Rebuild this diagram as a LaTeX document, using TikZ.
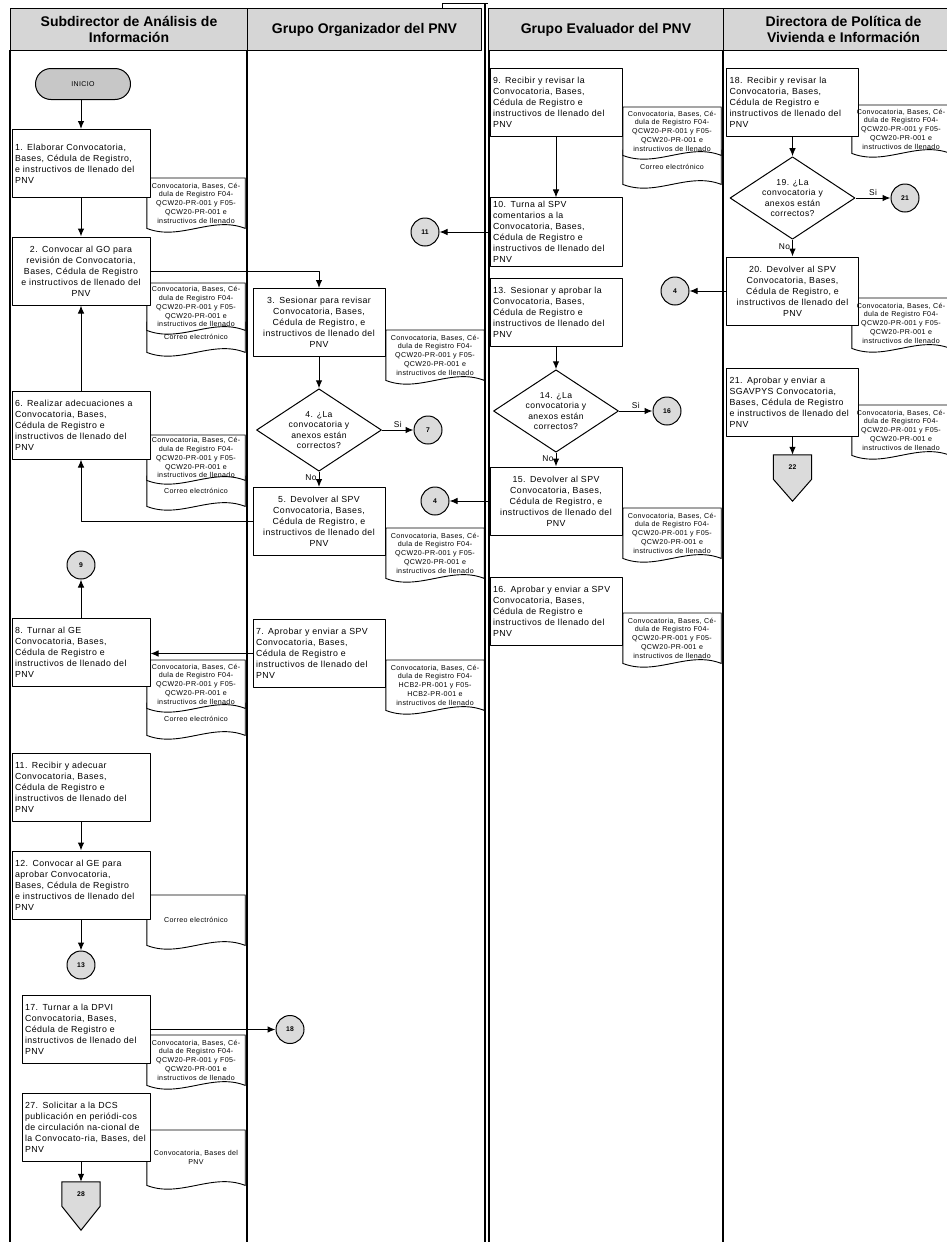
\documentclass[tikz,border=0pt]{standalone}
\usepackage{fontspec}
\setmainfont{Liberation Sans}
\newfontfamily\boxfont[LetterSpace=5]{Liberation Sans}
\usetikzlibrary{shapes.geometric,arrows.meta}

\pgfdeclarelayer{bg}
\pgfsetlayers{bg,main}

\definecolor{headgray}{gray}{0.84}
\definecolor{conngray}{gray}{0.86}
\definecolor{startgray}{gray}{0.78}

% texts of the attached forms
\newcommand{\formsQCW}{Convocatoria, Bases, Cé-\\dula de Registro F04-\\QCW20-PR-001 y F05-\\QCW20-PR-001 e\\instructivos de llenado}
\newcommand{\formsHCB}{Convocatoria, Bases, Cé-\\dula de Registro F04-\\HCB2-PR-001 y F05-\\HCB2-PR-001 e\\instructivos de llenado}
\newcommand{\mailtext}{Correo electrónico}

% document symbol: name, centre x, top y, height, text
\newcommand{\docnode}[5]{%
  \node[docu, minimum height=#4pt, anchor=north] (#1) at (#2,#3) {#5};
  \begin{pgfonlayer}{bg}
  \draw[docline] (#1.south east) -- (#1.north east) -- (#1.north west) -- (#1.south west)
    .. controls ([shift={(33,13)}]#1.south west) and ([shift={(-33,-13)}]#1.south east) .. (#1.south east) -- cycle;
  \end{pgfonlayer}
}

\begin{document}
\begin{tikzpicture}[x=1pt, y=-1pt, line join=round,
  lane/.style={line width=1.3pt},
  head/.style={draw, line width=1pt, fill=headgray, anchor=north west, align=center, inner sep=0pt,
    minimum height=42pt, font=\bfseries\fontsize{14}{15.5}\selectfont},
  proc/.style={draw, line width=1pt, fill=white, minimum width=132pt, minimum height=68pt,
    text width=126pt, inner xsep=3pt, align=left, font=\boxfont\fontsize{8.8}{11}\selectfont},
  procc/.style={proc, align=center},
  wide/.style={minimum width=138pt, text width=132pt},
  dec/.style={diamond, draw, line width=1pt, fill=white, minimum width=125pt, minimum height=70pt,
    inner sep=-4pt, align=center, font=\boxfont\fontsize{8.6}{10.6}\selectfont},
  startend/.style={draw, line width=1pt, fill=startgray, rounded corners=15.5pt, minimum width=95pt,
    minimum height=31pt, font=\boxfont\fontsize{7}{8}\selectfont},
  conn/.style={circle, draw, line width=1pt, fill=conngray, minimum size=28pt, inner sep=0pt,
    font=\bfseries\fontsize{6.8}{7}\selectfont},
  offp/.style={minimum width=38pt, minimum height=24pt, inner sep=0pt, font=\bfseries\fontsize{6.8}{7}\selectfont},
  offline/.style={draw, line width=1pt, fill=conngray},
  docu/.style={minimum width=98pt, text width=96pt, inner xsep=1pt, inner ysep=0pt, align=center,
    font=\boxfont\fontsize{7.1}{8.8}\selectfont},
  narrowdoc/.style={minimum width=86pt, text width=84pt, font=\boxfont\fontsize{6.3}{8.6}\selectfont},
  docline/.style={draw, line width=0.9pt, fill=white},
  flow/.style={line width=1pt, -{Latex[length=8pt, width=6.5pt]}},
  lbl/.style={font=\boxfont\fontsize{8.4}{9}\selectfont, inner sep=2pt}
]
\useasboundingbox (0,0) rectangle (946,1242);

% lane headers
\node[head, minimum width=237pt] (h1) at (10,8) {Subdirector de Análisis de\\Información};
\node[head, minimum width=234pt] (h2) at (247,8) {Grupo Organizador del PNV};
\node[head, minimum width=235pt] (h3) at (488,8) {Grupo Evaluador del PNV};
\node[head, minimum width=240pt] (h4) at (723,8) {Directora de Política de\\Vivienda e Información};
\draw[line width=1pt] (442,8) -- (442,3) -- (488,3);

% lane borders
\draw[lane] (10,50) -- (10,1242);
\draw[lane] (247,50) -- (247,1242);
\draw[lane] (485,3) -- (485,1242);
\draw[lane] (489,50) -- (489,1242);
\draw[lane] (723,50) -- (723,1242);

% lane 1: Subdirector
\node[startend] (inicio) at (83,84) {INICIO};
\node[proc, wide] (b1) at (81,163.5) {1. Elaborar Convocatoria,\\Bases, Cédula de Registro,\\e instructivos de llenado del\\PNV};
\docnode{f1}{196}{178}{50}{\formsQCW}
\node[procc, wide] (b2) at (81,271) {2. Convocar al GO para\\revisión de Convocatoria,\\Bases, Cédula de Registro\\e instructivos de llenado del\\PNV};
\docnode{m2}{196}{322}{30}{\mailtext}
\docnode{f2}{196}{283}{47}{\formsQCW}
\node[proc, wide] (b6) at (81,425) {6. Realizar adecuaciones a\\Convocatoria, Bases,\\Cédula de Registro e\\instructivos de llenado del\\PNV};
\docnode{m6}{196}{476}{30}{\mailtext}
\docnode{f6}{196}{435}{45}{\formsQCW}
\node[conn] (c9) at (81,565) {9};
\node[proc, wide] (b8) at (81,652) {8. Turnar al GE\\Convocatoria, Bases,\\Cédula de Registro e\\instructivos de llenado del\\PNV};
\docnode{m8}{196}{703}{32}{\mailtext}
\docnode{f8}{196}{660}{48}{\formsQCW}
\node[proc, wide] (b11) at (81,787) {11. Recibir y adecuar\\Convocatoria, Bases,\\Cédula de Registro e\\instructivos de llenado del\\PNV};
\node[proc, wide] (b12) at (81,885) {12. Convocar al GE para\\aprobar Convocatoria,\\Bases, Cédula de Registro\\e instructivos de llenado del\\PNV};
\docnode{m12}{196}{895}{50}{\mailtext}
\node[conn] (c13) at (81,965) {13};
\node[proc, minimum width=128pt, text width=122pt] (b17) at (86,1029.5) {17. Turnar a la DPVI\\Convocatoria, Bases,\\Cédula de Registro e\\instructivos de llenado del\\PNV};
\docnode{f17}{196}{1035}{50}{\formsQCW}
\node[proc, minimum width=128pt, text width=122pt] (b27) at (86,1127) {27. Solicitar a la DCS\\publicación en periódi-cos\\de circulación na-cional de\\la Convocato-ria, Bases, del\\PNV};
\docnode{f27}{196}{1130}{55}{Convocatoria, Bases del\\PNV}
\node[offp] (off28) at (81,1194) {28};
\begin{pgfonlayer}{bg}
\draw[offline] (off28.north west) -- (off28.north east) -- (off28.south east) -- ([yshift=-24pt]off28.south) -- (off28.south west) -- cycle;
\end{pgfonlayer}

% lane 2: Grupo Organizador
\node[procc] (b3) at (319,322.5) {3. Sesionar para revisar\\Convocatoria, Bases,\\Cédula de Registro, e\\instructivos de llenado del\\PNV};
\docnode{f3}{435}{330}{50}{\formsQCW}
\node[dec] (d4) at (319,430) {4. ¿La\\convocatoria y\\anexos están\\correctos?};
\node[conn] (c7) at (428,430) {7};
\node[procc] (b5) at (319,521.5) {5. Devolver al SPV\\Convocatoria, Bases,\\Cédula de Registro, e\\instructivos de llenado del\\PNV};
\docnode{f5}{435}{528}{50}{\formsQCW}
\node[conn] (c4a) at (435,501) {4};
\node[proc] (b7) at (319,653.5) {7. Aprobar y enviar a SPV\\Convocatoria, Bases,\\Cédula de Registro e\\instructivos de llenado del\\PNV};
\docnode{f7}{435}{660}{50}{\formsHCB}
\node[conn] (c11) at (425,232) {11};
\node[conn] (c18) at (290,1029.5) {18};

% lane 3: Grupo Evaluador
\node[proc] (b9) at (556,102.5) {9. Recibir y revisar la\\Convocatoria, Bases,\\Cédula de Registro e\\instructivos de llenado del\\PNV};
\docnode{m9}{672}{150}{34}{\mailtext}
\docnode{f9}{672}{107}{48}{\formsQCW}
\node[proc] (b10) at (556,232) {10. Turna al SPV\\comentarios a la\\Convocatoria, Bases,\\Cédula de Registro e\\instructivos de llenado del\\PNV};
\node[proc] (b13) at (556,312.5) {13. Sesionar y aprobar la\\Convocatoria, Bases,\\Cédula de Registro e\\instructivos de llenado del\\PNV};
\node[dec] (d14) at (556,411) {14. ¿La\\convocatoria y\\anexos están\\correctos?};
\node[conn] (c16) at (667,411) {16};
\node[procc] (b15) at (556,501) {15. Devolver al SPV\\Convocatoria, Bases,\\Cédula de Registro, e\\instructivos de llenado del\\PNV};
\docnode{f15}{672}{508}{50}{\formsQCW}
\node[proc] (b16) at (556,611.5) {16. Aprobar y enviar a SPV\\Convocatoria, Bases,\\Cédula de Registro e\\instructivos de llenado del\\PNV};
\docnode{f16}{672}{613}{50}{\formsQCW}

% lane 4: Directora
\node[proc] (b18) at (792.5,102.5) {18. Recibir y revisar la\\Convocatoria, Bases,\\Cédula de Registro e\\instructivos de llenado del\\PNV};
\docnode{f18}{901}{105}{48}{\formsQCW}
\node[dec] (d19) at (792.5,198) {19. ¿La\\convocatoria y\\anexos están\\correctos?};
\node[conn] (c21) at (905,198) {21};
\node[procc] (b20) at (792.5,291) {20. Devolver al SPV\\Convocatoria, Bases,\\Cédula de Registro, e\\instructivos de llenado del\\PNV};
\docnode{f20}{901}{298}{50}{\formsQCW}
\node[conn] (c4b) at (675,291) {4};
\node[proc] (b21) at (792.5,402.5) {21. Aprobar y enviar a\\SGAVPYS Convocatoria,\\Bases, Cédula de Registro\\e instructivos de llenado del\\PNV};
\docnode{f21}{901}{405}{50}{\formsQCW}
\node[offp] (off22) at (792.5,467) {22};
\begin{pgfonlayer}{bg}
\draw[offline] (off22.north west) -- (off22.north east) -- (off22.south east) -- ([yshift=-22pt]off22.south) -- (off22.south west) -- cycle;
\end{pgfonlayer}

% flow
\draw[flow] (inicio.south -| b1.north) -- (b1.north);
\draw[flow] (b1) -- (b2);
\draw[flow] (b2.east) -| (b3.north);
\draw[flow] (b3) -- (d4);
\draw[flow] (d4.east) -- node[lbl, above] {Si} (c7);
\draw[flow] (d4.south) -- node[lbl, left, pos=0.4] {No} (b5);
\draw[flow] (b5.west) -| (b6.south);
\draw[flow] (b6) -- (b2);
\draw[flow] (b7.west) -- (b7.west -| b8.east);
\draw[flow] (b8) -- (c9);
\draw[flow] (b9) -- (b10);
\draw[flow] (b10.west) -- (c11);
\draw[flow] (b13) -- (d14);
\draw[flow] (d14.east) -- node[lbl, above] {Si} (c16);
\draw[flow] (d14.south) -- node[lbl, left, pos=0.4] {No} (b15);
\draw[flow] (b15.west) -- (c4a);
\draw[flow] (b18) -- (d19);
\draw[flow] (d19.east) -- node[lbl, above] {Si} (c21);
\draw[flow] (d19.south) -- node[lbl, left, pos=0.4] {No} (b20);
\draw[flow] (b20.west) -- (c4b);
\draw[flow] (b21) -- (off22.north);
\draw[flow] (b11) -- (b12);
\draw[flow] (b12) -- (c13);
\draw[flow] (b17.east) -- (c18);
\draw[flow] (b27.south -| off28.north) -- (off28.north);
\end{tikzpicture}
\end{document}
